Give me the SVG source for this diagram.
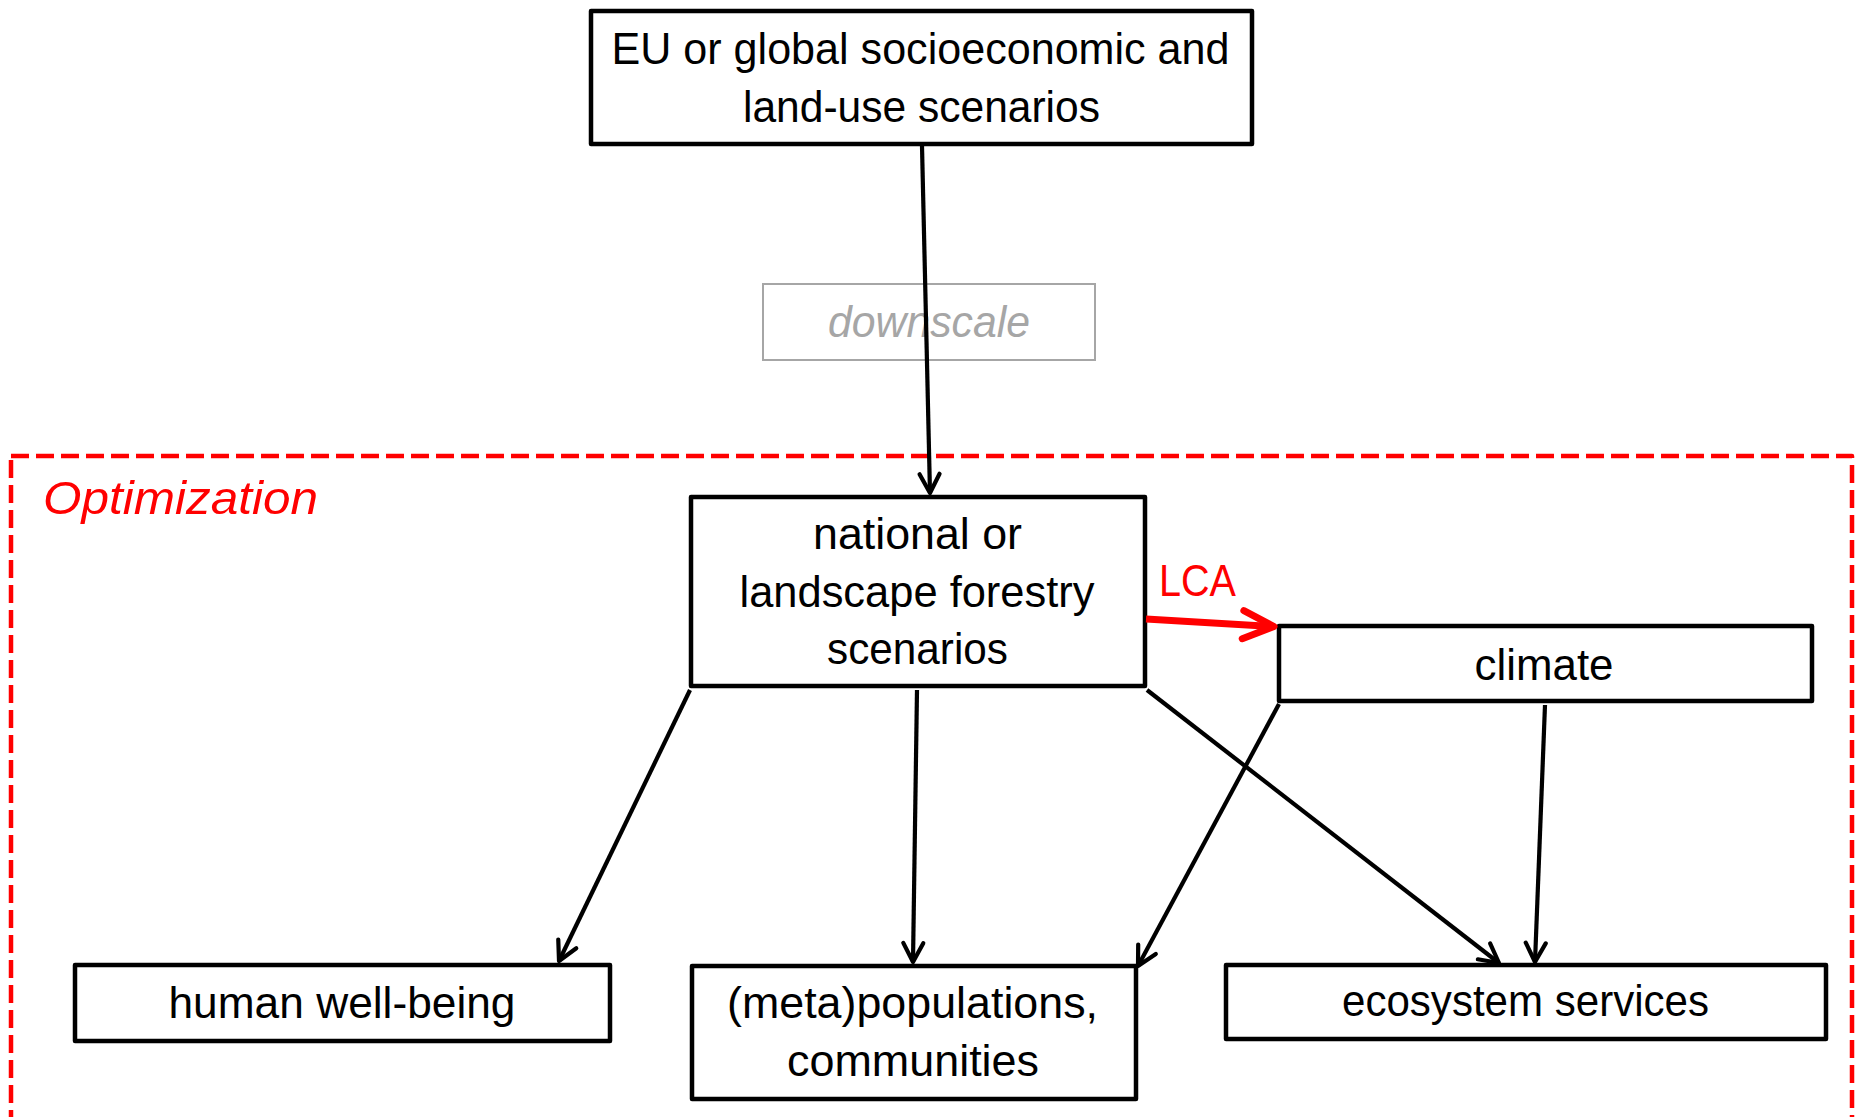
<svg xmlns="http://www.w3.org/2000/svg" width="1855" height="1117" viewBox="0 0 1855 1117">
<style>
.box{fill:#fff;stroke:#000;stroke-width:4.5;stroke-linejoin:round}
.t{font-family:"Liberation Sans",Arial,sans-serif;font-size:44px;fill:#000;text-anchor:middle}
.conn{stroke:#000;stroke-width:4.2;fill:none;marker-end:url(#ah)}
</style>
<defs>
<marker id="ah" markerUnits="userSpaceOnUse" orient="auto" overflow="visible" refX="0" refY="0" markerWidth="1" markerHeight="1">
<path d="M-19,-10 L0,0 L-19,10" fill="none" stroke="#000" stroke-width="4.2" stroke-linecap="round" stroke-linejoin="round"/>
</marker>
<marker id="ahr" markerUnits="userSpaceOnUse" orient="auto" overflow="visible" refX="0" refY="0" markerWidth="1" markerHeight="1">
<path d="M-31,-14 L0,0 L-31,14" fill="none" stroke="#ff0000" stroke-width="7" stroke-linecap="round" stroke-linejoin="round"/>
</marker>
</defs>
<rect width="1855" height="1117" fill="#fff"/>

<g id="optimization">
<rect x="11" y="456" width="1841" height="720" fill="none" stroke="#ff0000" stroke-width="4.5" stroke-dasharray="18 7" stroke-linejoin="round"/>
<text x="43" y="514" font-family="'Liberation Sans',Arial,sans-serif" font-size="47" font-style="italic" fill="#ff0000" textLength="275" lengthAdjust="spacingAndGlyphs">Optimization</text>
</g>

<g id="eu-scenarios">
<rect class="box" x="591" y="11" width="661" height="133"/>
<text class="t" x="920.5" y="64" textLength="618" lengthAdjust="spacingAndGlyphs">EU or global socioeconomic and</text>
<text class="t" x="921.5" y="122" textLength="357" lengthAdjust="spacingAndGlyphs">land-use scenarios</text>
</g>

<g id="downscale">
<rect x="763" y="284" width="332" height="76" fill="#fff" stroke="#a6a6a6" stroke-width="2"/>
<text class="t" x="929" y="337" style="fill:#a6a6a6;font-style:italic" textLength="202" lengthAdjust="spacingAndGlyphs">downscale</text>
</g>

<g id="national">
<rect class="box" x="691" y="497" width="454" height="189"/>
<text class="t" x="917.5" y="549" textLength="209" lengthAdjust="spacingAndGlyphs">national or</text>
<text class="t" x="917" y="607" textLength="355" lengthAdjust="spacingAndGlyphs">landscape forestry</text>
<text class="t" x="917.5" y="664" textLength="181" lengthAdjust="spacingAndGlyphs">scenarios</text>
</g>

<g id="climate">
<rect class="box" x="1279" y="626" width="533" height="75"/>
<text class="t" x="1544" y="680" textLength="139" lengthAdjust="spacingAndGlyphs">climate</text>
</g>

<g id="human">
<rect class="box" x="75" y="965" width="535" height="76"/>
<text class="t" x="342" y="1018" textLength="347" lengthAdjust="spacingAndGlyphs">human well-being</text>
</g>

<g id="populations">
<rect class="box" x="692" y="966" width="444" height="133"/>
<text class="t" x="912.5" y="1018" textLength="371" lengthAdjust="spacingAndGlyphs">(meta)populations,</text>
<text class="t" x="913" y="1076" textLength="252" lengthAdjust="spacingAndGlyphs">communities</text>
</g>

<g id="ecosystem">
<rect class="box" x="1226" y="965" width="600" height="74"/>
<text class="t" x="1525.5" y="1016" textLength="367" lengthAdjust="spacingAndGlyphs">ecosystem services</text>
</g>

<g id="connectors">
<line class="conn" x1="922" y1="146" x2="930" y2="493"/>
<line class="conn" x1="690" y1="690" x2="559" y2="961"/>
<line class="conn" x1="917" y1="690" x2="913" y2="962"/>
<line class="conn" x1="1147" y1="690" x2="1499" y2="963"/>
<line class="conn" x1="1279" y1="704" x2="1138" y2="966"/>
<line class="conn" x1="1545" y1="705" x2="1535" y2="962"/>
<line x1="1146" y1="619" x2="1274" y2="626.5" stroke="#ff0000" stroke-width="7" marker-end="url(#ahr)"/>
<text x="1159" y="596" font-family="'Liberation Sans',Arial,sans-serif" font-size="44" fill="#ff0000" textLength="77" lengthAdjust="spacingAndGlyphs">LCA</text>
</g>
</svg>
